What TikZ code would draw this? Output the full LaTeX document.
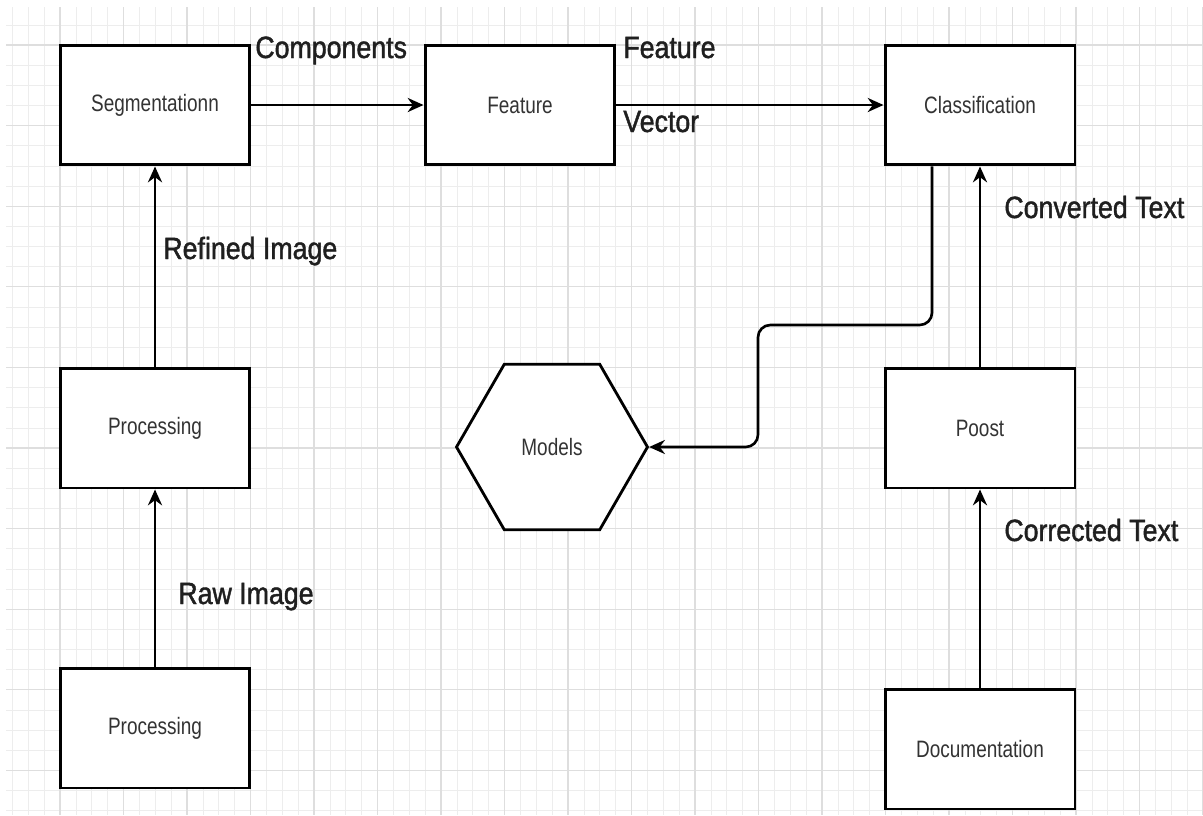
\documentclass[tikz,border=0pt]{standalone}
\usepackage{fontspec}
\setmainfont{Liberation Sans}
\newfontfamily\boxfont[FakeStretch=0.8]{Liberation Sans}
\newfontfamily\tagfont[FakeStretch=0.87,FakeBold=1.4]{Liberation Sans}
\usetikzlibrary{arrows.meta,shapes.geometric,positioning}

\begin{document}
\begin{tikzpicture}[
        x=0.02cm, y=-0.02cm,
        stage/.style={draw, line width=1.7pt, fill=white, minimum width=3.8cm, minimum height=2.4cm, font=\boxfont\fontsize{13.5}{16}\selectfont, text=black!80},
        hexa/.style={draw, line width=1.6pt, fill=white, regular polygon, regular polygon sides=6, minimum size=3.82cm, font=\boxfont\fontsize{13.5}{16}\selectfont, text=black!80},
        flow/.style={line width=1.5pt, -{Stealth[length=9pt, width=8pt]}},
        tag/.style={font=\tagfont\fontsize{17.5}{20}\selectfont, text=black!88, inner sep=0pt, anchor=base west}
    ]
    \useasboundingbox (0,0) rectangle (1203,815);
    \fill[white] (0,0) rectangle (1203,815);
    \begin{scope}
        \clip (6,7) rectangle (1203,815);
        \foreach \i in {0,...,76} \draw[black!7, line width=0.4pt] ({-3.5+15.875*\i},0) -- ++(0,815);
        \foreach \j in {0,...,43} \draw[black!7, line width=0.4pt] (0,{-35.6+20.15*\j}) -- ++(1203,0);
        \foreach \i in {0,...,19} \draw[black!13, line width=0.6pt] ({-3.5+63.5*\i},0) -- ++(0,815);
        \foreach \j in {0,...,11} \draw[black!13, line width=0.6pt] (0,{-35.6+80.6*\j}) -- ++(1203,0);
    \end{scope}

    \node[stage] (segment) at (155,105) {Segmentationn};
    \node[stage] (feature) at (520,105) {Feature};
    \node[stage] (classify) at (980,105) {Classification};
    \node[stage] (process) at (155,428) {Processing};
    \node[stage] (acquire) at (155,728) {Processing};
    \node[stage] (post) at (980,428) {Poost};
    \node[stage] (document) at (980,749) {Documentation};
    \node[hexa] (models) at (552,447) {Models};
    \coordinate (bend) at (758,325);

    \draw[flow] (segment) -- (feature);
    \draw[flow] (feature) -- (classify);
    \draw[flow] (process) -- (segment);
    \draw[flow] (acquire) -- (process);
    \draw[flow] (post) -- (classify);
    \draw[flow] (document) -- (post);
    \draw[flow, rounded corners=7pt] ([xshift=-0.96cm]classify.south) |- (bend) |- (models.east);

    \node[tag] (components) at (255,58) {Components};
    \node[tag] (featurelbl) at (623,58) {Feature};
    \node[tag] (vector) at (623,132) {Vector};
    \node[tag] (refined) at (163,259) {Refined Image};
    \node[tag] (raw) at (178,604) {Raw Image};
    \node[tag] (converted) at (1004,218) {Converted Text};
    \node[tag] (corrected) at (1004,541) {Corrected Text};
\end{tikzpicture}
\end{document}
